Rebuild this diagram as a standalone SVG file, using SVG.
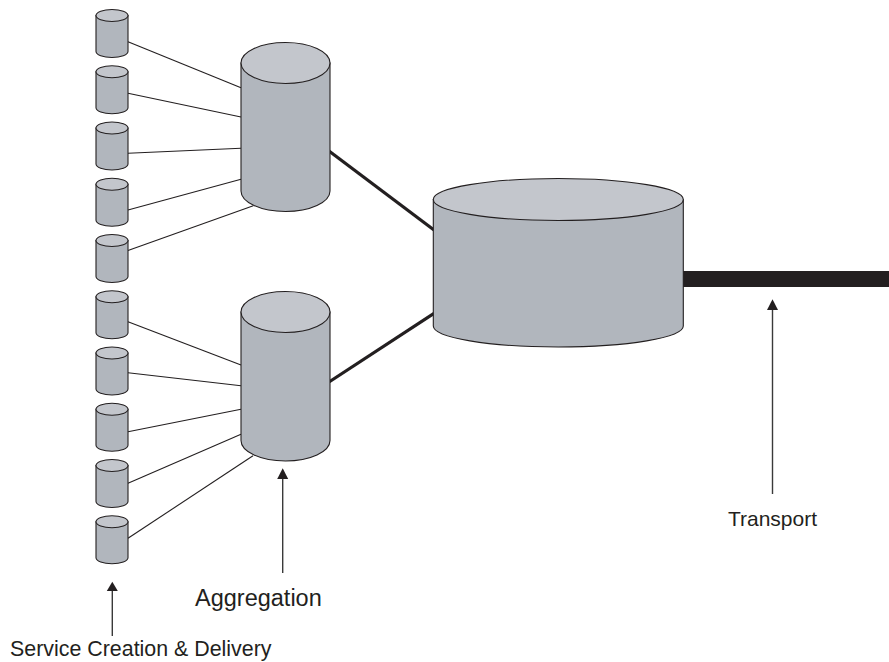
<svg xmlns="http://www.w3.org/2000/svg" width="889" height="662" viewBox="0 0 889 662">
<style>
.body{fill:#b1b6bd;stroke:#231f20;stroke-width:1.1}
.top{fill:#c3c6cc;stroke:#231f20;stroke-width:1.1}
.thin{stroke:#231f20;stroke-width:1.1;fill:none}
.thick{stroke:#231f20;stroke-width:3.2;fill:none}
.arr{stroke:#3a3a3a;stroke-width:1.4;fill:none}
.head{fill:#231f20}
.lbl{font-family:"Liberation Sans",Arial,sans-serif;fill:#231f20}
</style>
<rect width="889" height="662" fill="#fff"/>
<g id="connectors">
<line class="thin" x1="128" y1="41.7" x2="241" y2="87.7"/>
<line class="thin" x1="128" y1="93.3" x2="241" y2="117"/>
<line class="thin" x1="128" y1="153.3" x2="241" y2="148.3"/>
<line class="thin" x1="128" y1="210" x2="241" y2="179.3"/>
<line class="thin" x1="128" y1="250.5" x2="253.3" y2="205.7"/>
<line class="thin" x1="128" y1="321.7" x2="241" y2="365"/>
<line class="thin" x1="128" y1="372.7" x2="241" y2="385.7"/>
<line class="thin" x1="128" y1="431.7" x2="241" y2="409.3"/>
<line class="thin" x1="128" y1="483.3" x2="241" y2="434.3"/>
<line class="thin" x1="128" y1="538.3" x2="253" y2="455.7"/>
<line class="thick" x1="329" y1="151" x2="434" y2="230"/>
<line class="thick" x1="329" y1="382" x2="434" y2="313.3"/>
<rect x="683" y="271" width="206" height="16" fill="#231f20"/>
</g>
<g id="sc1"><path class="body" d="M96,15.5 V51.5 A16,6 0 0 0 128,51.5 V15.5 Z"/><ellipse class="top" cx="112" cy="15.5" rx="16" ry="6"/></g>
<g id="sc2"><path class="body" d="M96,71.75 V107.75 A16,6 0 0 0 128,107.75 V71.75 Z"/><ellipse class="top" cx="112" cy="71.75" rx="16" ry="6"/></g>
<g id="sc3"><path class="body" d="M96,128 V164 A16,6 0 0 0 128,164 V128 Z"/><ellipse class="top" cx="112" cy="128" rx="16" ry="6"/></g>
<g id="sc4"><path class="body" d="M96,184.25 V220.25 A16,6 0 0 0 128,220.25 V184.25 Z"/><ellipse class="top" cx="112" cy="184.25" rx="16" ry="6"/></g>
<g id="sc5"><path class="body" d="M96,240.5 V276.5 A16,6 0 0 0 128,276.5 V240.5 Z"/><ellipse class="top" cx="112" cy="240.5" rx="16" ry="6"/></g>
<g id="sc6"><path class="body" d="M96,296.75 V332.75 A16,6 0 0 0 128,332.75 V296.75 Z"/><ellipse class="top" cx="112" cy="296.75" rx="16" ry="6"/></g>
<g id="sc7"><path class="body" d="M96,353 V389 A16,6 0 0 0 128,389 V353 Z"/><ellipse class="top" cx="112" cy="353" rx="16" ry="6"/></g>
<g id="sc8"><path class="body" d="M96,409.25 V445.25 A16,6 0 0 0 128,445.25 V409.25 Z"/><ellipse class="top" cx="112" cy="409.25" rx="16" ry="6"/></g>
<g id="sc9"><path class="body" d="M96,465.5 V501.5 A16,6 0 0 0 128,501.5 V465.5 Z"/><ellipse class="top" cx="112" cy="465.5" rx="16" ry="6"/></g>
<g id="sc10"><path class="body" d="M96,521.75 V557.75 A16,6 0 0 0 128,557.75 V521.75 Z"/><ellipse class="top" cx="112" cy="521.75" rx="16" ry="6"/></g>
<g id="agg1"><path class="body" d="M241,63 V191 A44.5,20.5 0 0 0 330,191 V63 Z"/><ellipse class="top" cx="285.5" cy="63" rx="44.5" ry="20.5"/></g>
<g id="agg2"><path class="body" d="M241,312 V440.5 A44.5,20.5 0 0 0 330,440.5 V312 Z"/><ellipse class="top" cx="285.5" cy="312" rx="44.5" ry="20.5"/></g>
<g id="core"><path class="body" d="M433.3,199.5 V326 A125,21 0 0 0 683.3,326 V199.5 Z"/><ellipse class="top" cx="558.3" cy="199.5" rx="125" ry="21"/></g>
<g id="label-transport">
<line class="arr" x1="772.5" y1="308" x2="772.5" y2="494"/>
<polygon class="head" points="772.5,299.3 767,310 778,310"/>
<text class="lbl" x="772.5" y="526" font-size="21" text-anchor="middle">Transport</text>
</g>
<g id="label-aggregation">
<line class="arr" x1="282.7" y1="477" x2="282.7" y2="573"/>
<polygon class="head" points="282.7,468.3 277.2,479 288.2,479"/>
<text class="lbl" x="195" y="606" font-size="23.5">Aggregation</text>
</g>
<g id="label-service">
<line class="arr" x1="112.3" y1="589" x2="112.3" y2="636"/>
<polygon class="head" points="112.3,581.7 106.8,591 117.8,591"/>
<text class="lbl" x="10" y="656" font-size="21.4">Service Creation &amp; Delivery</text>
</g>
</svg>
